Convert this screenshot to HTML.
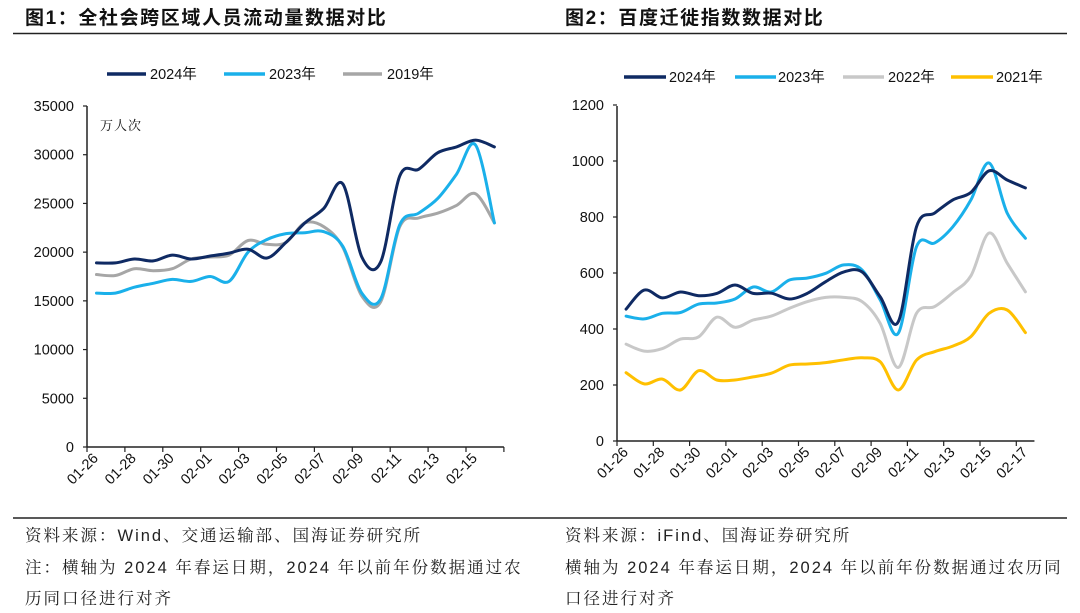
<!DOCTYPE html>
<html><head><meta charset="utf-8"><style>
body{margin:0;background:#fff;}
svg{display:block;font-family:"Liberation Sans","Noto Sans CJK SC",sans-serif;}
.f{font-family:"Liberation Sans","Noto Serif CJK SC",serif;}
</style></head><body>
<svg id="s" width="1080" height="613" viewBox="0 0 1080 613" xmlns="http://www.w3.org/2000/svg">
<text x="25" y="24" font-size="19" font-weight="bold" letter-spacing="1.6" fill="#111">图1：全社会跨区域人员流动量数据对比</text>
<text x="565" y="24" font-size="19" font-weight="bold" letter-spacing="1.6" fill="#111">图2：百度迁徙指数数据对比</text>
<line x1="13" y1="33.5" x2="1067" y2="33.5" stroke="#222" stroke-width="1.5"/>
<line x1="13" y1="518" x2="1067" y2="518" stroke="#222" stroke-width="1.5"/>
<g font-size="16.5" fill="#222" class="f" letter-spacing="2">
<text x="25" y="541">资料来源：Wind、交通运输部、国海证券研究所</text>
<text x="25" y="573">注：横轴为 2024 年春运日期，2024 年以前年份数据通过农</text>
<text x="25" y="604">历同口径进行对齐</text>
<text x="565" y="541">资料来源：iFind、国海证券研究所</text>
<text x="565" y="573">横轴为 2024 年春运日期，2024 年以前年份数据通过农历同</text>
<text x="565" y="604">口径进行对齐</text>
</g>
<g font-size="14.5" fill="#111">
<line x1="107" y1="74" x2="146" y2="74" stroke="#0f2a63" stroke-width="3.5"/><text x="150" y="79">2024年</text>
<line x1="224" y1="74" x2="265" y2="74" stroke="#1ab0ea" stroke-width="3.5"/><text x="269" y="79">2023年</text>
<line x1="343" y1="74" x2="382" y2="74" stroke="#a6a6a6" stroke-width="3.5"/><text x="387" y="79">2019年</text>
<line x1="624" y1="77" x2="666" y2="77" stroke="#0f2a63" stroke-width="3.5"/><text x="669" y="82">2024年</text>
<line x1="735" y1="77" x2="776" y2="77" stroke="#1ab0ea" stroke-width="3.5"/><text x="778" y="82">2023年</text>
<line x1="843" y1="77" x2="884" y2="77" stroke="#c8c8c8" stroke-width="3.5"/><text x="888" y="82">2022年</text>
<line x1="951" y1="77" x2="993" y2="77" stroke="#ffc000" stroke-width="3.5"/><text x="996" y="82">2021年</text>
</g>
<text x="100" y="130" font-size="13" fill="#111" class="f" letter-spacing="1">万人次</text>
<g id="g"></g>
</svg>
<script>
var NS="http://www.w3.org/2000/svg",g=document.getElementById('g');
function el(t,a,txt){var e=document.createElementNS(NS,t);for(var k in a)e.setAttribute(k,a[k]);if(txt!=null)e.textContent=txt;g.appendChild(e);return e;}
function path(pts){var d="M"+pts[0][0]+","+pts[0][1];for(var i=0;i<pts.length-1;i++){var p0=pts[Math.max(0,i-1)],p1=pts[i],p2=pts[i+1],p3=pts[Math.min(pts.length-1,i+2)];
var c1x=p1[0]+(p2[0]-p0[0])/6,c1y=p1[1]+(p2[1]-p0[1])/6,c2x=p2[0]-(p3[0]-p1[0])/6,c2y=p2[1]-(p3[1]-p1[1])/6;
d+=" C"+c1x.toFixed(1)+","+c1y.toFixed(1)+" "+c2x.toFixed(1)+","+c2y.toFixed(1)+" "+p2[0].toFixed(1)+","+p2[1].toFixed(1);}return d;}
function chart(o){
 var x0=o.x0,w=o.cw,n=o.n,y0=o.y0,ppu=o.ppu;
 el('line',{x1:x0,y1:o.ytop,x2:x0,y2:y0,stroke:'#222','stroke-width':1.5});
 el('line',{x1:x0,y1:y0,x2:x0+n*w,y2:y0,stroke:'#222','stroke-width':1.5});
 o.yt.forEach(function(v){var y=y0-v*ppu;el('line',{x1:x0-4,y1:y,x2:x0,y2:y,stroke:'#222','stroke-width':1.2});
  el('text',{x:x0-13,y:y+5,'text-anchor':'end','font-size':14.5,fill:'#111'},String(v));});
 for(var i=0;i<=n;i+=2){var x=x0+i*w;el('line',{x1:x,y1:y0,x2:x,y2:y0+5,stroke:'#222','stroke-width':1.2});
  if(i<o.labels.length*2){var lx=x+12,ly=y0+12;el('text',{x:lx,y:ly,'text-anchor':'end','font-size':14.5,fill:'#111',transform:'rotate(-45 '+lx+' '+ly+')'},o.labels[i/2]);}}
 o.series.forEach(function(s){var pts=s.d.map(function(v,i){return [x0+w*(i+0.5),y0-v*ppu];});
  el('path',{d:path(pts),fill:'none',stroke:s.c,'stroke-width':3,'stroke-linejoin':'round','stroke-linecap':'round'});});
}
chart({x0:87,cw:18.95,n:22,y0:447,ytop:106,ppu:341/35000,yt:[0,5000,10000,15000,20000,25000,30000,35000],
 labels:['01-26','01-28','01-30','02-01','02-03','02-05','02-07','02-09','02-11','02-13','02-15'],
 series:[
 {c:'#a6a6a6',d:[17.7,17.6,18.3,18.1,18.3,19.3,19.5,19.7,21.2,20.8,21.0,23.0,22.6,20.5,15.5,14.9,22.6,23.5,24.0,24.8,26.0,23.0].map(function(v){return v*1000;})},
 {c:'#1ab0ea',d:[15.8,15.8,16.4,16.8,17.2,17.0,17.5,17.0,20.0,21.3,21.9,22.0,22.1,20.6,15.8,15.2,22.8,24.0,25.5,28.0,31.0,23.0].map(function(v){return v*1000;})},
 {c:'#0f2a63',d:[18.9,18.9,19.3,19.1,19.7,19.3,19.6,19.9,20.3,19.4,21.0,23.0,24.5,27.0,19.5,19.0,27.8,28.5,30.2,30.8,31.5,30.8].map(function(v){return v*1000;})}
 ]});
chart({x0:617,cw:18.15,n:23,y0:441,ytop:106,ppu:0.28,yt:[0,200,400,600,800,1000,1200],
 labels:['01-26','01-28','01-30','02-01','02-03','02-05','02-07','02-09','02-11','02-13','02-15','02-17'],
 series:[
 {c:'#ffc000',d:[244,204,221,182,251,218,218,229,242,271,275,280,290,297,283,182,289,319,339,373,456,468,387]},
 {c:'#c8c8c8',d:[346,321,330,364,372,442,406,432,446,474,498,513,513,498,420,263,456,480,530,590,743,635,533]},
 {c:'#1ab0ea',d:[446,436,456,459,489,493,507,550,532,575,582,599,629,611,504,385,694,707,765,861,993,814,724]},
 {c:'#0f2a63',d:[471,539,511,532,519,527,557,527,528,507,528,569,604,604,515,426,765,814,861,888,965,932,904]}
 ]});
</script>
</body></html>
